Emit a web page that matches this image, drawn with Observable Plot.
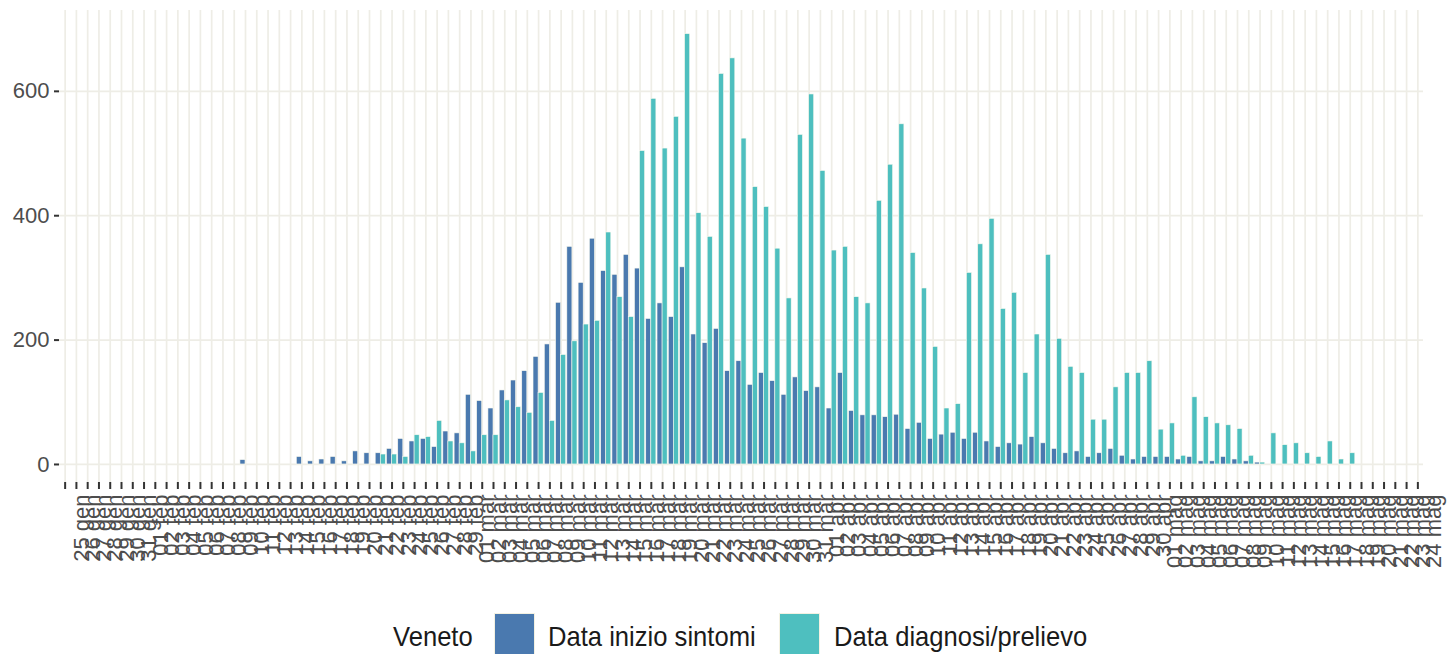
<!DOCTYPE html>
<html><head><meta charset="utf-8">
<script src="https://cdn.jsdelivr.net/npm/d3@7"></script>
<script src="https://cdn.jsdelivr.net/npm/@observablehq/plot@0.6"></script>
<style>
html,body{margin:0;padding:0;background:#fff;}
#wrap{width:1450px;}
#legend{position:relative;width:1450px;height:54px;overflow:hidden;font-family:"Liberation Sans",Arial,sans-serif;font-size:25.6px;color:#1a1a1a;}
#legend .t{position:absolute;top:37px;transform:translateY(-50%) scaleY(1.1);white-space:nowrap;line-height:1;}
#legend .k{position:absolute;top:13px;width:41px;height:46px;box-sizing:border-box;border:1px solid #f3f1e2;}
#chart svg [aria-label^="x-axis"] path, #chart svg [aria-label^="x-axis"] line,
#chart svg [aria-label^="y-axis"] path, #chart svg [aria-label^="y-axis"] line{stroke:#333;stroke-width:2px;}
#chart svg text{fill:#4d4d4d;}
</style></head><body>
<div id="wrap"><div id="chart"></div><div id="legend"></div></div>
<script>
const labels = [
"25 gen","26 gen","27 gen","28 gen","29 gen","30 gen","31 gen",
"01 feb","02 feb","03 feb","04 feb","05 feb","06 feb","07 feb","08 feb","09 feb","10 feb","11 feb","12 feb","13 feb","14 feb","15 feb","16 feb","17 feb","18 feb","19 feb","20 feb","21 feb","22 feb","23 feb","24 feb","25 feb","26 feb","27 feb","28 feb","29 feb",
"01 mar","02 mar","03 mar","04 mar","05 mar","06 mar","07 mar","08 mar","09 mar","10 mar","11 mar","12 mar","13 mar","14 mar","15 mar","16 mar","17 mar","18 mar","19 mar","20 mar","21 mar","22 mar","23 mar","24 mar","25 mar","26 mar","27 mar","28 mar","29 mar","30 mar","31 mar",
"01 apr","02 apr","03 apr","04 apr","05 apr","06 apr","07 apr","08 apr","09 apr","10 apr","11 apr","12 apr","13 apr","14 apr","15 apr","16 apr","17 apr","18 apr","19 apr","20 apr","21 apr","22 apr","23 apr","24 apr","25 apr","26 apr","27 apr","28 apr","29 apr","30 apr",
"01 mag","02 mag","03 mag","04 mag","05 mag","06 mag","07 mag","08 mag","09 mag","10 mag","11 mag","12 mag","13 mag","14 mag","15 mag","16 mag","17 mag","18 mag","19 mag","20 mag","21 mag","22 mag","23 mag","24 mag"
];
const sintomi = [
null,null,null,null,null,
0,0,0,0,0,0,0,0,0,0,0,
7,
0,0,0,0,
12,5,8,12,5,21,18,18,25,41,
37,41,28,53,50,112,102,90,119,135,
150,173,193,260,350,292,363,311,305,337,
315,234,259,237,317,209,195,218,150,166,
128,147,134,112,140,118,124,90,147,86,
79,79,76,80,57,67,41,48,51,41,
51,37,28,34,32,44,34,25,18,21,
12,18,25,14,8,12,12,12,8,12,
5,5,12,8,5,3,0,0,0,0,
0,0,0,0,
null,null,null,null,null,null
];
const diagnosi = [
null,null,null,null,null,
0,0,0,0,0,0,0,0,0,0,0,0,0,0,0,0,0,0,0,0,0,0,0,
16,16,12,
47,44,70,37,34,21,47,47,103,92,
83,115,70,176,198,225,231,373,269,237,
504,588,508,559,692,404,366,628,653,524,
446,414,347,267,530,595,472,344,350,269,
259,424,482,547,340,283,189,90,97,308,
354,395,250,276,147,209,337,202,157,147,
72,72,124,147,147,166,56,66,14,108,
76,66,63,57,14,3,50,31,34,18,
12,37,8,18,
null,null,null,null,null,null
];
const seriesNames = ["Data inizio sintomi", "Data diagnosi/prelievo"];
const legendTitle = "Veneto";
const yTicks = [0, 200, 400, 600];
const colors = ["#4a79af", "#4ebfbf"];

const rows = labels.map((d, i) => ({date: d, sintomi: sintomi[i], diagnosi: diagnosi[i]}));

const W = 1450, mL = 59, mR = 27;
const bw = (W - mL - mR) / labels.length;
const half = bw * 0.45;

const chart = Plot.plot({
  width: W, height: 600,
  marginTop: 10, marginBottom: 118, marginLeft: mL, marginRight: mR,
  style: {fontFamily: "'Liberation Sans', Arial, sans-serif", fontSize: "22px", background: "white", overflow: "visible"},
  x: {type: "band", domain: labels, padding: 0, tickRotate: -90, tickSize: 7, tickPadding: 5, label: null},
  y: {domain: [-29, 730], ticks: yTicks, tickSize: 5, tickPadding: 5, label: null},
  marks: [
    Plot.ruleX(labels, {x: d => d, stroke: "#eeede6", strokeWidth: 1.7}),
    Plot.ruleY(yTicks, {stroke: "#eeede6", strokeWidth: 1.7}),
    Plot.barY(rows, {filter: d => d.sintomi != null, x: "date", y: "sintomi", fill: colors[0],
      insetLeft: bw / 2 - half, insetRight: bw / 2, stroke: "#fbfaf0", strokeWidth: 0.6}),
    Plot.barY(rows, {filter: d => d.diagnosi != null, x: "date", y: "diagnosi", fill: colors[1],
      insetLeft: bw / 2, insetRight: bw / 2 - half, stroke: "#fbfaf0", strokeWidth: 0.6})
  ]
});
document.getElementById("chart").appendChild(chart);
// shift rotated x tick labels so they sit just right of their tick, as in the reference
chart.querySelectorAll('[aria-label^="x-axis"] text').forEach(t => t.setAttribute("dy", "0.75em"));

const lg = document.getElementById("legend");
const items = [
  {cls: "t", left: 393, text: legendTitle},
  {cls: "k", left: 494, color: colors[0]},
  {cls: "t", left: 548, text: seriesNames[0]},
  {cls: "k", left: 779, color: colors[1]},
  {cls: "t", left: 834, text: seriesNames[1]}
];
for (const it of items) {
  const el = document.createElement("div");
  el.className = it.cls;
  el.style.left = it.left + "px";
  if (it.text) el.textContent = it.text;
  if (it.color) el.style.background = it.color;
  lg.appendChild(el);
}
</script>
</body></html>
